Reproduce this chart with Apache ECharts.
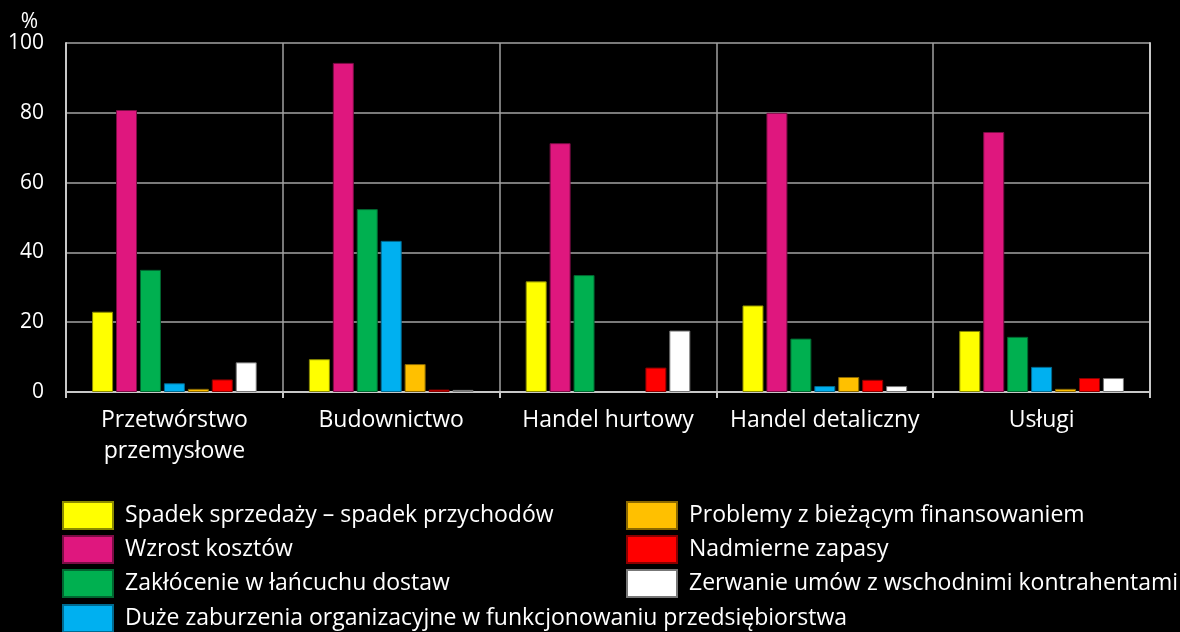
<!DOCTYPE html>
<html><head><meta charset="utf-8">
<script src="https://cdn.jsdelivr.net/npm/echarts@6/dist/echarts.min.js"></script>
<style>html,body{margin:0;padding:0;background:#000;}#c{width:1180px;height:632px;}</style>
</head><body><div id="c"></div>
<script>
const categories = ['Przetwórstwo\nprzemysłowe', 'Budownictwo', 'Handel hurtowy', 'Handel detaliczny', 'Usługi'];
const seriesNames = [
  'Spadek sprzedaży – spadek przychodów',
  'Wzrost kosztów',
  'Zakłócenie w łańcuchu dostaw',
  'Duże zaburzenia organizacyjne w funkcjonowaniu przedsiębiorstwa',
  'Problemy z bieżącym finansowaniem',
  'Nadmierne zapasy',
  'Zerwanie umów z wschodnimi kontrahentami'
];
const spadek = [23.0, 9.4, 31.7, 24.8, 17.5];
const wzrost = [80.8, 94.3, 71.3, 80.0, 74.5];
const zaklocenie = [35.0, 52.4, 33.5, 15.3, 15.8];
const zaburzenia = [2.5, 43.3, 0, 1.7, 7.2];
const problemy = [0.9, 8.0, 0, 4.3, 0.9];
const zapasy = [3.6, 0.7, 7.0, 3.5, 4.0];
const zerwanie = [8.5, 0.6, 17.6, 1.7, 4.0];
const yTicks = [0, 20, 40, 60, 80, 100];

const values = [spadek, wzrost, zaklocenie, zaburzenia, problemy, zapasy, zerwanie];
const colors = ['#FFFF00', '#DF177E', '#00B050', '#00B0F0', '#FFC000', '#FF0000', '#FFFFFF'];
const borders = ['#8a8a00', '#7a0d45', '#006630', '#006a90', '#8a6800', '#8a0000', '#777777'];
const FONT = 'Open Sans';
const FS = 23;

// legend placement: [left, top] for each series entry
const legendPos = [[62, 501], [62, 535], [62, 569], [62, 604], [626, 501], [626, 535], [626, 569]];
const legends = seriesNames.map((n, i) => ({
  data: [n], left: legendPos[i][0], top: legendPos[i][1], padding: 0,
  itemWidth: 50, itemHeight: 27,
  textStyle: { color: '#fff', fontSize: FS, fontFamily: FONT, padding: [0, 0, 0, 7] },
  icon: 'rect'
}));

const chart = echarts.init(document.getElementById('c'));
chart.setOption({
  backgroundColor: '#000',
  animation: false,
  textStyle: { fontFamily: FONT, color: '#fff' },
  grid: { left: 66, right: 30, top: 43, bottom: 240 },
  legend: legends,
  xAxis: {
    type: 'category', data: categories,
    axisLine: { show: true, lineStyle: { color: '#c8c8c8', width: 2 } },
    axisTick: { show: true, length: 6, lineStyle: { color: '#c8c8c8', width: 2 } },
    splitLine: { show: true, lineStyle: { color: '#a0a0a0', width: 1.5 } },
    axisLabel: { color: '#fff', fontSize: FS, fontFamily: FONT, lineHeight: 31, margin: 13, interval: 0 }
  },
  yAxis: [{
    type: 'value', min: 0, max: 100, interval: 20,
    name: '%', nameLocation: 'end', nameGap: 6,
    nameTextStyle: { color: '#fff', fontSize: 21, fontFamily: FONT, align: 'right', padding: [0, 28, -10, 0] },
    axisLine: { show: true, lineStyle: { color: '#c8c8c8', width: 2 } },
    axisTick: { show: false },
    splitLine: { show: true, lineStyle: { color: '#7a7a7a', width: 2 } },
    axisLabel: { color: '#fff', fontSize: 21, fontFamily: FONT, margin: 22,
      formatter: v => yTicks.includes(v) ? String(v) : '' }
  }, {
    type: 'value', min: 0, max: 100, interval: 20, position: 'right',
    axisLine: { show: true, lineStyle: { color: '#c8c8c8', width: 2 } },
    axisTick: { show: false }, axisLabel: { show: false }, splitLine: { show: false }
  }],
  series: seriesNames.map((n, i) => ({
    name: n, type: 'bar', barWidth: 21, barGap: '14%',
    data: values[i].map(v => v === 0 ? { value: v, itemStyle: { borderWidth: 0 } } : v),
    itemStyle: { color: colors[i], borderColor: borders[i], borderWidth: 1 }
  }))
});
</script></body></html>
